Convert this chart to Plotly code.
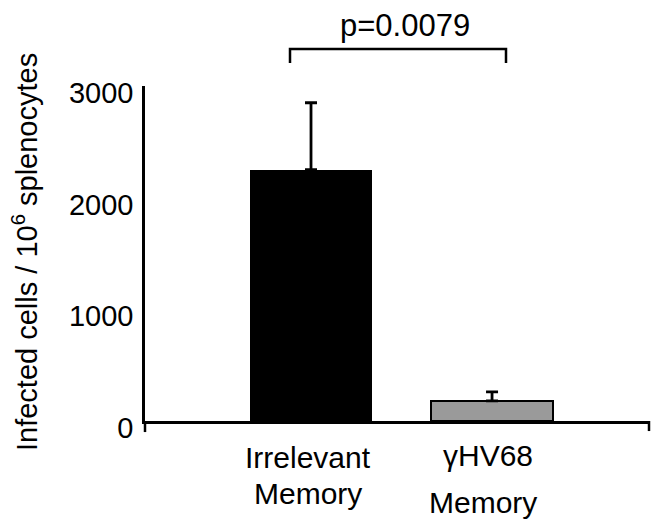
import plotly.graph_objects as go

categories = ["Irrelevant Memory", "γHV68 Memory"]
values = [2250, 180]
err_plus = [600, 80]
bar_colors = ["#000000", "#9a9a9a"]
label_line1 = ["Irrelevant", "γHV68"]
label_line2 = ["Memory", "Memory"]
y_ticks = [0, 1000, 2000, 3000]
p_text = "p=0.0079"

FONT = "Liberation Sans, Arial, sans-serif"
OFF = 8  # page body margin
W, H = 663 - OFF, 528 - OFF
PL, PR, PT, PB = 145, 649, 86, 421  # plot area in screen pixels
ML, MR, MT, MB = PL - OFF, W - (PR - OFF), PT - OFF, H - (PB - OFF)
XR = [-0.917, 1.867]

def px2paper_x(px):
    return (px - PL) / (PR - PL)
def px2paper_y(py):
    return (PB - py) / (PB - PT)

fig = go.Figure()
fig.add_trace(go.Bar(
    x=[0, 1], y=values, width=0.67,
    marker=dict(color=bar_colors, line=dict(color="#000000", width=[0, 2])),
    error_y=dict(type="data", symmetric=False, array=err_plus,
                 arrayminus=[0, 0], color="#000000", thickness=2.8, width=6),
    showlegend=False,
))

shapes = []
shapes.append(dict(type="line", xref="paper", yref="paper", x0=0, x1=0, y0=0, y1=-0.033,
                   line=dict(color="black", width=2.5)))
shapes.append(dict(type="line", xref="paper", yref="paper", x0=1, x1=1, y0=0, y1=-0.03,
                   line=dict(color="black", width=2.5)))
bx0, bx1 = px2paper_x(290), px2paper_x(506)
by, byl = px2paper_y(49), px2paper_y(63)
shapes.append(dict(type="path", xref="paper", yref="paper",
                   path=f"M {bx0},{byl} L {bx0},{by} L {bx1},{by} L {bx1},{byl}",
                   line=dict(color="black", width=2.5)))

annotations = []
annotations.append(dict(text=p_text, xref="paper", yref="paper", x=px2paper_x(405),
                        y=px2paper_y(25), showarrow=False, xanchor="center", yanchor="middle",
                        font=dict(size=31, color="black", family=FONT)))
annotations.append(dict(text="Infected cells / 10<sup>6</sup> splenocytes", textangle=-90,
                        xref="paper", yref="paper", x=px2paper_x(25), y=px2paper_y(252),
                        showarrow=False, xanchor="center", yanchor="middle",
                        font=dict(size=29, color="black", family=FONT)))
l1_y = [457, 455]
l2_y = [493, 502]
shift1 = [-3, -4]
shift2 = [-3, -9]
for i in range(2):
    annotations.append(dict(text=label_line1[i], xref="x", yref="paper", x=i, xshift=shift1[i],
                            y=px2paper_y(l1_y[i]), showarrow=False, xanchor="center", yanchor="middle",
                            font=dict(size=30, color="black", family=FONT)))
    annotations.append(dict(text=label_line2[i], xref="x", yref="paper", x=i, xshift=shift2[i],
                            y=px2paper_y(l2_y[i]), showarrow=False, xanchor="center", yanchor="middle",
                            font=dict(size=30, color="black", family=FONT)))

fig.update_layout(
    width=W, height=H,
    margin=dict(l=ML, r=MR, t=MT, b=MB, pad=0),
    paper_bgcolor="white", plot_bgcolor="white",
    font=dict(family=FONT, color="black"),
    xaxis=dict(range=XR, showticklabels=False, ticks="", showgrid=False, zeroline=False,
               showline=True, linecolor="black", linewidth=2.5, fixedrange=True),
    yaxis=dict(range=[0, 3000], tickvals=y_ticks, ticktext=[str(v) for v in y_ticks],
               ticks="", showgrid=False, zeroline=False, showline=True, linecolor="black",
               linewidth=2.5, tickfont=dict(size=29, color="black", family=FONT),
               ticklabelshift=7, ticklabelstandoff=3),
    shapes=shapes, annotations=annotations, bargap=0,
)

fig.write_html("out.html")
